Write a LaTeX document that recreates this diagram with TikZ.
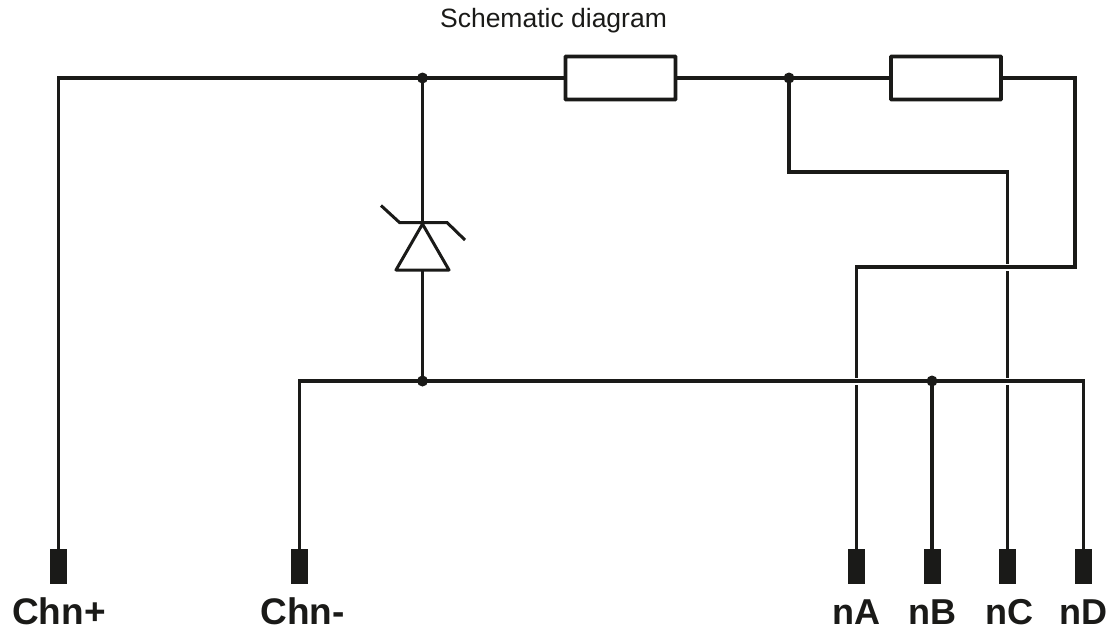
\documentclass[tikz,border=0pt]{standalone}
\usepackage{fontspec}
\setmainfont{Liberation Sans}
\definecolor{ink}{HTML}{1A1A18}
\tikzset{
  wire/.style={draw=ink,line width=3.8pt,line cap=butt,line join=miter},
  thinwire/.style={draw=ink,line width=3pt,line cap=butt,line join=miter},
  resistor/.style={draw=ink,line width=3.8pt,fill=white,minimum width=110pt,minimum height=43pt,inner sep=0pt,rounded corners=0.5pt},
  terminal/.style={fill=ink,draw=none,minimum width=17pt,minimum height=35pt,inner sep=0pt},
  junction/.style={circle,fill=ink,draw=none,minimum size=11pt,inner sep=0pt},
  pinlabel/.style={font=\bfseries\fontsize{36}{36}\selectfont,text=ink,inner sep=0pt,anchor=base},
  chnlabel/.style={pinlabel,font=\bfseries\fontsize{37}{37}\selectfont},
  title/.style={font=\fontsize{26.5}{30}\selectfont,text=ink,inner sep=0pt,anchor=base}
}
\begin{document}
\begin{tikzpicture}[x=1pt,y=-1pt]
\useasboundingbox[fill=white] (0,0) rectangle (1115,634);
% terminals
\node[terminal] (tCp) at (58.5,566.5) {};
\node[terminal] (tCm) at (299.5,566.5) {};
\node[terminal] (tA) at (856.5,566.5) {};
\node[terminal] (tB) at (932,566.5) {};
\node[terminal] (tC) at (1007.5,566.5) {};
\node[terminal] (tD) at (1083.5,566.5) {};
% junctions
\node[junction] (j1) at (422.5,78) {};
\node[junction] (j2) at (789,78) {};
\node[junction] (j3) at (422.5,381) {};
\node[junction] (j4) at (932,381) {};
% resistors
\node[resistor] (r1) at (620.5,78) {};
\node[resistor] (r2) at (946,78) {};
% corners
\coordinate (cTL) at (58.5,78);
\coordinate (cTR) at (1075,78);
\coordinate (cR2) at (1075,267);
\coordinate (cA) at (856.5,267);
\coordinate (cJ) at (789,172);
\coordinate (cC) at (1007.5,172);
\coordinate (cM) at (299.5,381);
\coordinate (cD) at (1083.5,381);
% gaps
\coordinate (gA1) at (856.5,378);
\coordinate (gA2) at (856.5,385);
\coordinate (gC1) at (1007.5,263.5);
\coordinate (gC2) at (1007.5,271);
\coordinate (gC3) at (1007.5,378);
\coordinate (gC4) at (1007.5,385);
% diode
\coordinate (dA) at (422.5,224);
\coordinate (dL) at (396,270);
\coordinate (dR) at (449,270);
\coordinate (dB) at (422.5,270);
\coordinate (zL) at (399.5,222.5);
\coordinate (zR) at (447,222.5);
\coordinate (zLt) at (381,205.5);
\coordinate (zRt) at (465,240);
% wires
\draw[wire] (tCp.north) -- (cTL) -- (j1.center) -- (r1.west);
\draw[wire] (r1.east) -- (j2.center) -- (r2.west);
\draw[wire] (r2.east) -- (cTR) -- (cR2) -- (cA) -- (gA1);
\draw[wire] (gA2) -- (tA.north);
\draw[wire] (j2.center) -- (cJ) -- (cC) -- (gC1);
\draw[wire] (gC2) -- (gC3);
\draw[wire] (gC4) -- (tC.north);
\draw[wire] (tCm.north) -- (cM) -- (j3.center) -- (j4.center) -- (cD) -- (tD.north);
\draw[wire] (j4.center) -- (tB.north);
\draw[wire] (j1.center) -- (dA);
\draw[wire] (dB) -- (j3.center);
\draw[thinwire,line join=round] (dA) -- (dL) -- (dR) -- cycle;
\draw[thinwire] (zLt) -- (zL) -- (zR) -- (zRt);
% labels
\node[title] (ttl) at (553.5,27.5) {Schematic diagram};
\node[chnlabel] (lCp) at (59,624.5) {Chn+};
\node[chnlabel] (lCm) at (302.5,624.5) {Chn-};
\node[pinlabel] (lA) at (856.5,624) {nA};
\node[pinlabel] (lB) at (932,624) {nB};
\node[pinlabel] (lC) at (1009.5,624) {nC};
\node[pinlabel] (lD) at (1083.5,624) {nD};
\end{tikzpicture}
\end{document}
